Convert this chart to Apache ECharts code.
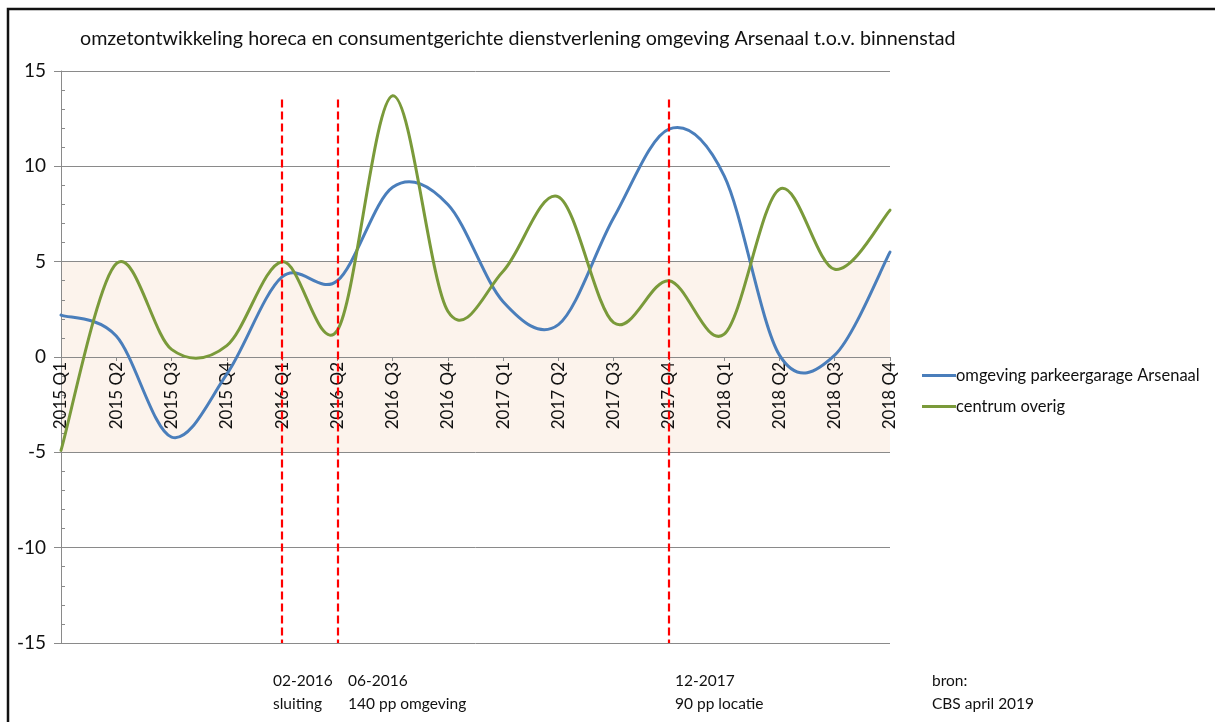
<!DOCTYPE html>
<html><head><meta charset="utf-8">
<script src="https://cdn.jsdelivr.net/npm/echarts@6/dist/echarts.min.js"></script>
<style>html,body{margin:0;padding:0;background:#fff}#c{width:1215px;height:722px}</style>
</head><body><div id="c"></div>
<script>
const categories = ['2015 Q1','2015 Q2','2015 Q3','2015 Q4','2016 Q1','2016 Q2','2016 Q3','2016 Q4',
  '2017 Q1','2017 Q2','2017 Q3','2017 Q4','2018 Q1','2018 Q2','2018 Q3','2018 Q4'];
const arsenaal = [2.2, 1.1, -4.2, -0.9, 4.2, 4.0, 8.9, 8.0, 2.9, 1.7, 7.3, 11.95, 9.5, 0.1, 0.1, 5.5];
const centrum  = [-4.9, 4.9, 0.4, 0.6, 5.0, 1.4, 13.7, 2.4, 4.5, 8.4, 1.8, 4.0, 1.2, 8.8, 4.6, 7.7];
const seriesNames = ['omgeving parkeergarage Arsenaal', 'centrum overig'];
const yMin = -15, yMax = 15, yStep = 5;
const bandRange = [-5, 5];
const eventCats = ['2016 Q1', '2016 Q2', '2017 Q4'];
const eventTop = 13.5;
const eventNotes = ['02-2016\nsluiting', '06-2016\n140 pp omgeving', '12-2017\n90 pp locatie'];
const sourceNote = 'bron:\nCBS april 2019';
const titleText = 'omzetontwikkeling horeca en consumentgerichte dienstverlening omgeving Arsenaal t.o.v. binnenstad';

const FONT = 'Lato, "Liberation Sans", sans-serif';
const chart = echarts.init(document.getElementById('c'), null, {renderer: 'canvas'});

const GRID = {left: 61, right: 325, top: 71, bottom: 79};
const plotH = 722 - GRID.top - GRID.bottom;
const zeroOffset = -plotH * (0 - yMin) / (yMax - yMin);

const noteX = [273, 348, 675];
const graphics = [
  {type: 'rect', shape: {x: 8, y: 9, width: 1400, height: 900}, style: {fill: 'none', stroke: '#111', lineWidth: 2.5}, silent: true}
];
eventNotes.forEach((t, i) => graphics.push({type: 'text', left: noteX[i], top: 669, style: {text: t, font: '15.5px ' + FONT, fill: '#111', lineHeight: 23}}));
graphics.push({type: 'text', left: 932, top: 669, style: {text: sourceNote, font: '15.5px ' + FONT, fill: '#111', lineHeight: 23}});

// Excel-like smoothed line (Catmull-Rom bezier) drawn through the axis scales
function curveSeries(name, values, color, extra) {
  return Object.assign({
    name, type: 'custom', coordinateSystem: 'cartesian2d', z: 3,
    data: values.map((v, i) => [i, v]),
    itemStyle: {color},
    renderItem: (params, api) => {
      if (params.dataIndex !== 0) return null;
      const pts = values.map((v, i) => api.coord([i, v]));
      const n = pts.length;
      let d = 'M' + pts[0][0] + ' ' + pts[0][1];
      for (let i = 0; i < n - 1; i++) {
        const p0 = pts[Math.max(i - 1, 0)], p1 = pts[i], p2 = pts[i + 1], p3 = pts[Math.min(i + 2, n - 1)];
        const c1x = p1[0] + (p2[0] - p0[0]) / 6, c1y = p1[1] + (p2[1] - p0[1]) / 6;
        const c2x = p2[0] - (p3[0] - p1[0]) / 6, c2y = p2[1] - (p3[1] - p1[1]) / 6;
        d += ' C' + c1x + ' ' + c1y + ' ' + c2x + ' ' + c2y + ' ' + p2[0] + ' ' + p2[1];
      }
      return {type: 'path', shape: {pathData: d}, style: {fill: null, stroke: color, lineWidth: 3, lineJoin: 'round', lineCap: 'round'}};
    }
  }, extra || {});
}

chart.setOption({
  animation: false,
  backgroundColor: '#fff',
  title: {text: titleText, left: 75, top: 24, textStyle: {fontFamily: FONT, fontSize: 19.7, fontWeight: 'normal', color: '#111'}},
  legend: {
    orient: 'vertical', left: 917, top: 362, itemGap: 14,
    icon: 'rect', itemWidth: 34, itemHeight: 3,
    textStyle: {fontFamily: FONT, fontSize: 16.5, color: '#111', padding: [0, 0, 0, -5]},
    data: seriesNames.map((n, i) => ({name: n, itemStyle: {color: i === 0 ? '#4A7EBB' : '#7A9A3A'}}))
  },
  grid: Object.assign({containLabel: false}, GRID),
  xAxis: {
    type: 'category', data: categories, boundaryGap: false, z: 2,
    offset: zeroOffset,
    axisLine: {onZero: false, lineStyle: {color: '#8a8a8a', width: 1}},
    axisTick: {show: true, length: 4, lineStyle: {color: '#8a8a8a'}},
    axisLabel: {rotate: 90, margin: 5, fontFamily: FONT, fontSize: 17, color: '#111', interval: 0},
    splitLine: {show: false}
  },
  yAxis: [{
    type: 'value', min: yMin, max: yMax, interval: yStep, z: 2,
    axisLine: {show: true, onZero: false, lineStyle: {color: '#8a8a8a'}},
    axisTick: {show: true, length: 7, lineStyle: {color: '#8a8a8a'}},
    axisLabel: {margin: 15, fontFamily: FONT, fontSize: 19, color: '#111'},
    splitLine: {show: true, lineStyle: {color: '#8a8a8a', width: 1}}
  }, {
    type: 'value', min: yMin, max: yMax, interval: yStep, position: 'left', z: 2,
    axisLine: {show: false}, axisLabel: {show: false}, splitLine: {show: false},
    axisTick: {show: true, inside: true, length: 0, lineStyle: {width: 0}},
    minorTick: {show: true, splitNumber: 5, length: 4, lineStyle: {color: '#8a8a8a'}}
  }],
  series: [
    curveSeries(seriesNames[0], arsenaal, '#4A7EBB', {
      markArea: {silent: true, z: 1, itemStyle: {color: '#FCF3EC'}, data: [[{yAxis: bandRange[0]}, {yAxis: bandRange[1]}]]},
      markLine: {
        silent: true, symbol: 'none', z: 5, label: {show: false},
        lineStyle: {color: '#FF0000', width: 2.2, type: [8, 4]},
        data: eventCats.map(c => [{coord: [c, eventTop]}, {coord: [c, yMin]}])
      }
    }),
    curveSeries(seriesNames[1], centrum, '#7A9A3A')
  ],
  graphic: graphics
});
</script>
</body></html>
